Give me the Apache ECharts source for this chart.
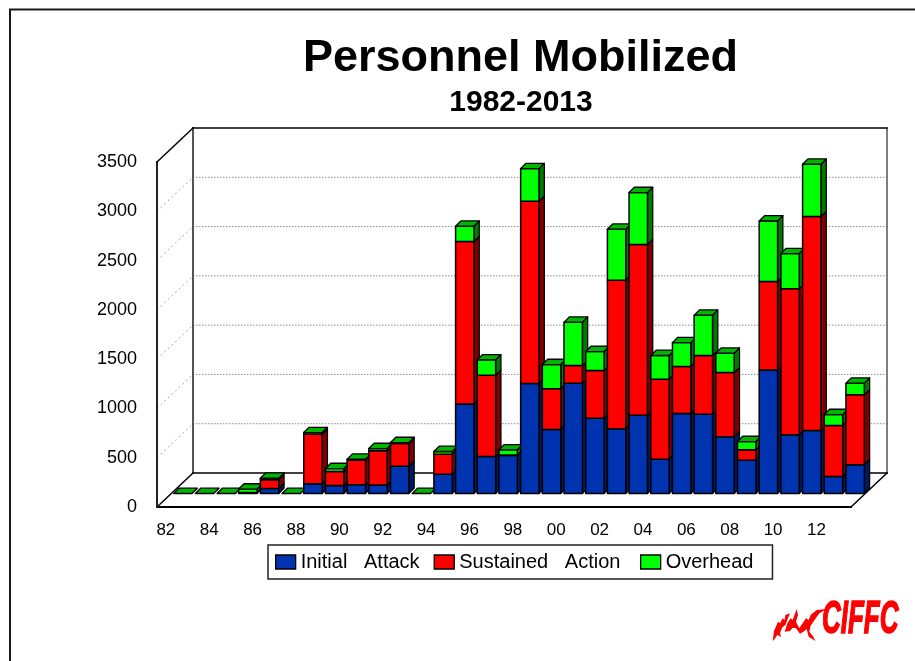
<!DOCTYPE html>
<html><head><meta charset="utf-8">
<style>html,body{margin:0;padding:0;background:#fff}#c{width:915px;height:661px}</style>
<script src="https://cdn.jsdelivr.net/npm/echarts@6/dist/echarts.min.js"></script>
</head><body><div id="c"></div>
<script>
var years = ['82','83','84','85','86','87','88','89','90','91','92','93','94','95','96','97','98','99','00','01','02','03','04','05','06','07','08','09','10','11','12','13'];
var initialAttack = [0,0,0,5,50,0,100,80,90,85,277,0,196,909,375,385,1116,649,1119,764,656,794,348,811,805,575,338,1254,595,639,172,291];
var sustainedAction = [0,0,0,5,90,0,500,143,250,348,230,0,203,1647,825,5,1849,413,179,483,1508,1731,812,477,595,652,105,896,1481,2170,518,710];
var overhead = [0,0,0,35,15,0,18,30,8,23,10,0,27,155,156,53,331,246,440,193,517,528,240,243,409,196,84,615,358,531,111,118];
var yTicks = [500,1000,1500,2000,2500,3000];
var names = ['Initial   Attack','Sustained   Action ','Overhead'];

// picture geometry (pixels)
var WALL_DX = 36, WALL_DY = 34;   // depth of the floor
var BAR_DX = 15, BAR_DY = 13.5;   // bar front plane behind the chart front plane
var DEPTH = 5.3, BAR_W = 18.4;

var looks = [
  {front:'#0033b0', side:'#001a60'},
  {front:'#ff0000', side:'#800000'},
  {front:'#00ff00', side:'#007a00'}
];
var TOP = '#00b400';

function build(layer){
  var arrs = [initialAttack, sustainedAction, overhead];
  return years.map(function(y,i){
    var base = 0;
    for (var k=0;k<layer;k++) base += arrs[k][i];
    return [i, base, base + arrs[layer][i]];
  });
}
function barRenderer(layer){
  return function(params, api){
    var i = api.value(0), a = api.coord([i, api.value(1)]), b = api.coord([i, api.value(2)]);
    var x0 = a[0] + BAR_DX - BAR_W/2, x1 = x0 + BAR_W;
    var y0 = a[1] - BAR_DY, y1 = b[1] - BAR_DY;
    var L = looks[layer], kids = [], z = i*10 + layer*3;
    function st(fill, w){ return {fill:fill, stroke:'#000', lineWidth:w||1.2, lineJoin:'round'}; }
    if (y0 - y1 > 0.01) {
      kids.push({type:'polygon', z2:z, shape:{points:[[x1,y0],[x1+DEPTH,y0-DEPTH],[x1+DEPTH,y1-DEPTH],[x1,y1]]}, style:st(L.side)});
      kids.push({type:'rect', z2:z+1, shape:{x:x0,y:y1,width:BAR_W,height:y0-y1}, style:st(L.front,1.5)});
    }
    if (layer === 2) {
      kids.push({type:'polygon', z2:z+2, shape:{points:[[x0,y1],[x0+DEPTH,y1-DEPTH],[x1+DEPTH,y1-DEPTH],[x1,y1]]}, style:st(TOP,1.3)});
    }
    return {type:'group', children:kids};
  };
}
function wallRenderer(params, api){
  var cs = params.coordSys, v = api.value(0), kids = [];
  var p = api.coord([0, v]), y = p[1], L = cs.x, R = cs.x + cs.width;
  kids.push({type:'line', shape:{x1:L+WALL_DX,y1:y-WALL_DY,x2:R+WALL_DX,y2:y-WALL_DY}, style:{stroke:'#8c8c8c', lineWidth:1, lineDash:[1.5,1.5]}});
  kids.push({type:'line', shape:{x1:L,y1:y,x2:L+WALL_DX,y2:y-WALL_DY}, style:{stroke:'#a8a8a8',lineWidth:1,lineDash:[2,3]}});
  return {type:'group', children:kids};
}
function frameRenderer(params, api){
  var cs = params.coordSys, L = cs.x, R = cs.x+cs.width, T = cs.y, B = cs.y+cs.height;
  function ln(a,b,c,d,col,w){ return {type:'line', shape:{x1:a,y1:b,x2:c,y2:d}, style:{stroke:col,lineWidth:w,lineCap:'square'}}; }
  return {type:'group', children:[
    ln(L+WALL_DX,T-WALL_DY,L+WALL_DX,B-WALL_DY,'#555',2),
    ln(R+WALL_DX,T-WALL_DY,R+WALL_DX,B-WALL_DY,'#555',1.5),
    ln(L+WALL_DX,B-WALL_DY,R+WALL_DX,B-WALL_DY,'#000',1.5),
    ln(L,B,L+WALL_DX,B-WALL_DY,'#000',1.5),
    ln(R,B,R+WALL_DX,B-WALL_DY,'#000',1.5),
    ln(L,B,R,B,'#000',2),
    ln(L,T,L,B,'#222',2),
    ln(L,T,L+WALL_DX,T-WALL_DY,'#000',1.5),
    ln(L+WALL_DX,T-WALL_DY,R+WALL_DX,T-WALL_DY,'#000',1.5)
  ]};
}
var FONT = '"Liberation Sans", Arial, sans-serif';
var flameA = [[8,108],[12,78],[24,50],[30,55],[38,40],[44,45],[46,30],[60,25],[54,40],[46,60],[36,68],[30,85],[34,96],[22,90],[14,102]];
var flameB = [[44,80],[52,55],[62,40],[68,45],[80,12],[84,30],[78,50],[88,70],[98,55],[108,40],[116,45],[122,30],[140,15],[170,12],[148,25],[130,50],[122,62],[118,80],[130,95],[136,108],[116,95],[110,72],[100,80],[90,86],[78,70],[68,68],[60,78]];
function flame(pts){ return {type:'polygon', silent:true, x:770, y:605, scaleX:1/3, scaleY:1/3, shape:{points:pts}, style:{fill:'#ff0000'}}; }

var chart = echarts.init(document.getElementById('c'), null, {renderer:'canvas'});
chart.setOption({
  animation:false,
  backgroundColor:'#fff',
  title:[
    {text:'Personnel Mobilized', left:515.5, top:31, textAlign:'center',
     textStyle:{fontFamily:FONT,fontWeight:'bold',fontSize:45,color:'#000'}},
    {text:'1982-2013', left:516, top:83, textAlign:'center',
     textStyle:{fontFamily:FONT,fontWeight:'bold',fontSize:30,color:'#000'}}
  ],
  grid:{left:157, top:162, width:694, height:345, containLabel:false},
  xAxis:{type:'category', data:years, boundaryGap:true,
    axisLine:{show:false}, axisTick:{show:false}, splitLine:{show:false},
    axisLabel:{interval:1, margin:15, fontFamily:FONT, fontSize:17, color:'#000', padding:[0,4,0,0]}},
  yAxis:{type:'value', min:0, max:3500, interval:500,
    axisLine:{show:false}, axisTick:{show:false}, splitLine:{show:false},
    axisLabel:{margin:20, fontFamily:FONT, fontSize:18, color:'#000', formatter:function(v){return String(v);}}},
  legend:{
    data:names.map(function(n,i){return {name:n, icon:'rect', itemStyle:{color:looks[i].front, borderColor:'#000', borderWidth:1.3}};}),
    left:268, top:545, orient:'horizontal',
    padding:[7,19,7,7], itemGap:14, itemWidth:20, itemHeight:14,
    borderColor:'#222', borderWidth:1.5, backgroundColor:'#fff',
    textStyle:{fontFamily:FONT,fontSize:20,color:'#000'}, selectedMode:false
  },
  graphic:[
    {type:'polyline', silent:true, shape:{points:[[10,661],[10,9.5],[915,9.5]]}, style:{fill:'none',stroke:'#1a1a1a',lineWidth:2}},
    flame(flameA), flame(flameB),
    {type:'text', silent:true, x:822, y:643, scaleX:0.565, style:{text:'CIFFC', font:'italic bold 46px '+FONT, fill:'#ff0000', stroke:'#ff0000', lineWidth:1.5, textVerticalAlign:'bottom'}}
  ],
  series:[
    {type:'custom', name:'walls', z:1, silent:true, coordinateSystem:'cartesian2d', data:yTicks.map(function(t){return [t];}),
      encode:{y:0}, renderItem:wallRenderer, clip:false},
    {type:'custom', name:'frame', z:1, silent:true, coordinateSystem:'cartesian2d', data:[[0]],
      encode:{y:0}, renderItem:frameRenderer, clip:false},
    {type:'custom', name:names[0], z:2, coordinateSystem:'cartesian2d', data:build(0), encode:{x:0,y:[1,2]}, renderItem:barRenderer(0), clip:false, itemStyle:{color:looks[0].front}},
    {type:'custom', name:names[1], z:2, coordinateSystem:'cartesian2d', data:build(1), encode:{x:0,y:[1,2]}, renderItem:barRenderer(1), clip:false, itemStyle:{color:looks[1].front}},
    {type:'custom', name:names[2], z:2, coordinateSystem:'cartesian2d', data:build(2), encode:{x:0,y:[1,2]}, renderItem:barRenderer(2), clip:false, itemStyle:{color:looks[2].front}}
  ]
});
</script></body></html>
